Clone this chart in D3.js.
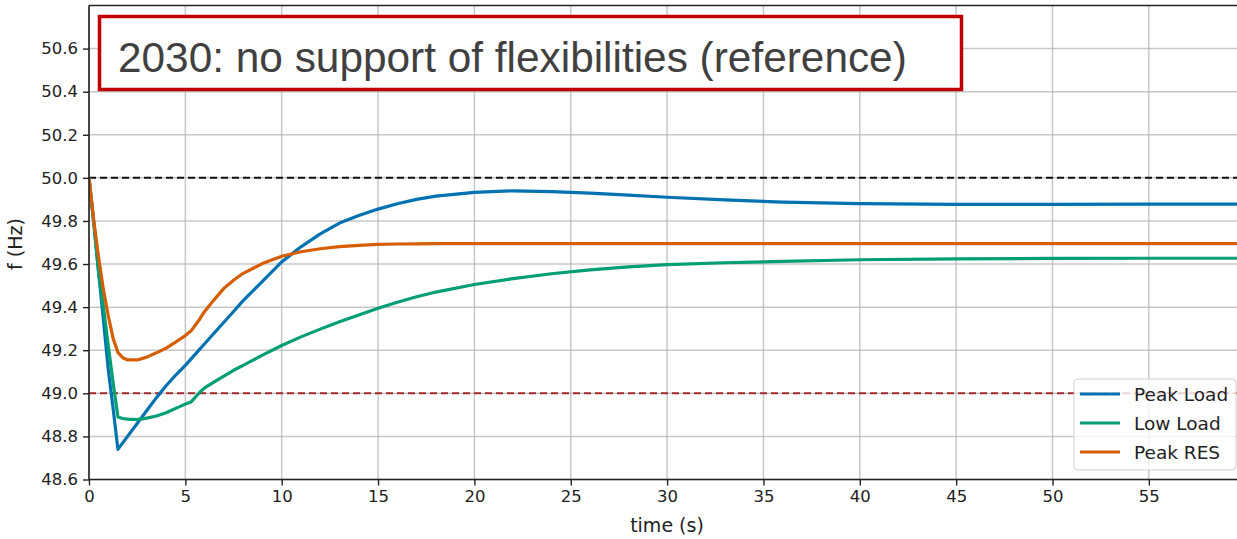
<!DOCTYPE html>
<html>
<head>
<meta charset="utf-8">
<script src="https://cdn.jsdelivr.net/npm/d3@7"></script>
<style>
  body { margin: 0; background: #fff; }
  svg { display: block; }
</style>
</head>
<body>
<div id="chart"></div>
<script>
// time samples (s)
var time = [0, 0.25, 0.5, 0.75, 1.0, 1.25, 1.5, 1.75, 2.0, 2.5, 3, 3.5, 4, 4.5, 5, 5.3, 5.75, 6, 6.5, 7, 7.5, 8, 9, 10, 11, 12, 13, 14, 15, 16, 17, 18, 20, 22, 24, 26, 28, 30, 33, 36, 40, 45, 50, 55, 60];

// frequency (Hz) per scenario
var peakLoad = [50.0, 49.79, 49.56, 49.34, 49.11, 48.93, 48.74, 48.77, 48.80, 48.86, 48.92, 48.98, 49.035, 49.085, 49.13, 49.16, 49.205, 49.23, 49.28, 49.33, 49.38, 49.43, 49.52, 49.61, 49.68, 49.74, 49.79, 49.825, 49.855, 49.88, 49.90, 49.915, 49.933, 49.94, 49.936, 49.929, 49.92, 49.91, 49.898, 49.887, 49.88, 49.877, 49.877, 49.878, 49.878];
var lowLoad  = [50.0, 49.79, 49.56, 49.40, 49.22, 49.05, 48.89, 48.883, 48.88, 48.878, 48.885, 48.895, 48.91, 48.93, 48.95, 48.96, 49.005, 49.025, 49.053, 49.08, 49.107, 49.13, 49.177, 49.222, 49.262, 49.298, 49.332, 49.364, 49.395, 49.423, 49.448, 49.47, 49.505, 49.532, 49.555, 49.573, 49.587, 49.597, 49.606, 49.612, 49.62, 49.624, 49.626, 49.627, 49.627];
var peakRES  = [50.0, 49.80, 49.63, 49.48, 49.36, 49.255, 49.19, 49.165, 49.155, 49.155, 49.168, 49.188, 49.21, 49.238, 49.268, 49.29, 49.345, 49.38, 49.435, 49.487, 49.525, 49.557, 49.602, 49.636, 49.657, 49.671, 49.681, 49.687, 49.691, 49.693, 49.694, 49.695, 49.695, 49.695, 49.695, 49.695, 49.695, 49.695, 49.695, 49.695, 49.695, 49.695, 49.695, 49.695, 49.695];

var seriesNames = ["Peak Load", "Low Load", "Peak RES"];
var seriesColors = ["#0072B2", "#009E73", "#D55E00"];
var seriesValues = [peakLoad, lowLoad, peakRES];

var xTicks = [0, 5, 10, 15, 20, 25, 30, 35, 40, 45, 50, 55];
var yTicks = [48.6, 48.8, 49.0, 49.2, 49.4, 49.6, 49.8, 50.0, 50.2, 50.4, 50.6];
var refLines = [50.0, 49.0];
var title = "2030: no support of flexibilities (reference)";

var width = 1237, height = 539;
var plotLeft = 89, plotTop = 5.5, plotBottom = 479.5;

var svg = d3.select("#chart").append("svg")
    .attr("width", width)
    .attr("height", height)
    .style("font-family", "'DejaVu Sans', sans-serif");

svg.append("rect").attr("width", width).attr("height", height).attr("fill", "#fff");

var x = d3.scaleLinear().domain([0, 60]).range([plotLeft, plotLeft + 60 * 19.27]);
var y = d3.scaleLinear().domain([48.6, 50.8]).range([plotBottom, plotTop]);

svg.append("clipPath").attr("id", "plot")
  .append("rect")
    .attr("x", plotLeft).attr("y", plotTop)
    .attr("width", width - plotLeft).attr("height", plotBottom - plotTop);

// grid
var grid = svg.append("g").attr("stroke", "#b0b0b0").attr("stroke-opacity", 0.7).attr("stroke-width", 1.5);
grid.selectAll(".gx").data(xTicks).enter().append("line")
    .attr("x1", d => x(d)).attr("x2", d => x(d))
    .attr("y1", plotTop).attr("y2", plotBottom);
grid.selectAll(".gy").data(yTicks).enter().append("line")
    .attr("x1", plotLeft).attr("x2", width)
    .attr("y1", d => y(d)).attr("y2", d => y(d));

// reference dashed lines
svg.selectAll(".ref").data(refLines).enter().append("line")
    .attr("x1", plotLeft).attr("x2", width)
    .attr("y1", d => y(d)).attr("y2", d => y(d))
    .attr("stroke", (d, i) => i == 0 ? "#111" : "#a52a2a")
    .attr("stroke-width", 2)
    .attr("stroke-dasharray", "7,4");

// curves
var line = d3.line()
    .x((d, i) => x(time[i]))
    .y(d => y(d));

svg.append("g").attr("clip-path", "url(#plot)")
  .selectAll("path").data(seriesValues).enter().append("path")
    .attr("d", d => line(d))
    .attr("fill", "none")
    .attr("stroke", (d, i) => seriesColors[i])
    .attr("stroke-width", 3.2)
    .attr("stroke-linejoin", "round");

// axes
var xAxis = svg.append("g")
    .attr("transform", "translate(0," + plotBottom + ")")
    .call(d3.axisBottom(x).tickValues(xTicks).tickFormat(d3.format("d")).tickSizeOuter(0).tickSize(6).tickPadding(5));
var yAxis = svg.append("g")
    .attr("transform", "translate(" + plotLeft + ",0)")
    .call(d3.axisLeft(y).tickValues(yTicks).tickFormat(d3.format(".1f")).tickSizeOuter(0).tickSize(6).tickPadding(5));

[xAxis, yAxis].forEach(function (g) {
  g.select(".domain").attr("stroke", "#222").attr("stroke-width", 1.6);
  g.selectAll(".tick line").attr("stroke", "#222").attr("stroke-width", 1.4);
  g.selectAll(".tick text").attr("fill", "#222").style("font-size", "16.5px").style("font-family", "'DejaVu Sans', sans-serif");
});
xAxis.select(".domain").attr("d", "M" + plotLeft + ",0H" + width);
yAxis.select(".domain").attr("d", "M0," + plotBottom + "V" + plotTop);

// top spine
svg.append("line")
    .attr("x1", plotLeft).attr("x2", width)
    .attr("y1", plotTop).attr("y2", plotTop)
    .attr("stroke", "#222").attr("stroke-width", 1.6);

// axis labels
svg.append("text")
    .attr("x", 667).attr("y", 532)
    .attr("text-anchor", "middle")
    .attr("fill", "#222")
    .style("font-size", "19px")
    .text("time (s)");
svg.append("text")
    .attr("transform", "translate(22,244) rotate(-90)")
    .attr("text-anchor", "middle")
    .attr("fill", "#222")
    .style("font-size", "19px")
    .text("f (Hz)");

// legend
var legend = svg.append("g");
legend.append("rect")
    .attr("x", 1074).attr("y", 379)
    .attr("width", 162).attr("height", 91)
    .attr("rx", 4)
    .attr("fill", "#fff").attr("fill-opacity", 0.8)
    .attr("stroke", "#d0d0d0").attr("stroke-width", 1);
var items = legend.selectAll(".item").data(seriesNames).enter().append("g")
    .attr("transform", (d, i) => "translate(0," + (394 + i * 29) + ")");
items.append("line")
    .attr("x1", 1080).attr("x2", 1120)
    .attr("stroke", (d, i) => seriesColors[i])
    .attr("stroke-width", 3.2);
items.append("text")
    .attr("x", 1134).attr("y", 6.5)
    .attr("fill", "#222")
    .style("font-size", "18.5px")
    .text(d => d);

// title box
svg.append("rect")
    .attr("x", 99.5).attr("y", 16.5)
    .attr("width", 862).attr("height", 73)
    .attr("fill", "#fff")
    .attr("stroke", "#c00000").attr("stroke-width", 3.5);
var t = svg.append("text")
    .attr("x", 118).attr("y", 72)
    .attr("fill", "#404040")
    .style("font-family", "'Liberation Sans', Arial, sans-serif")
    .style("font-size", "40px")
    .text(title);
var w = t.node().getComputedTextLength();
t.style("font-size", (40 * 789 / w) + "px");
</script>
</body>
</html>
